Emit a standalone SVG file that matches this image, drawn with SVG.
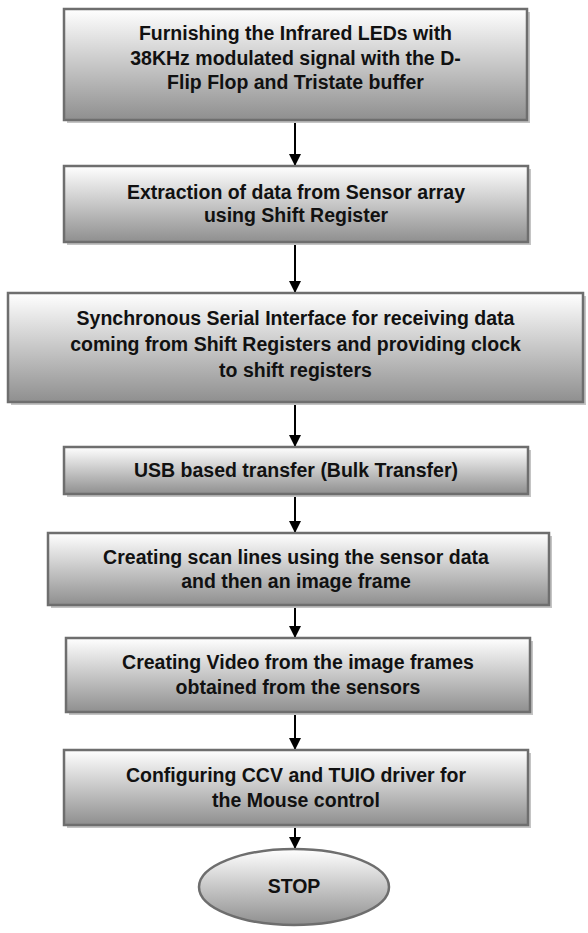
<svg xmlns="http://www.w3.org/2000/svg" width="588" height="933" viewBox="0 0 588 933">
  <defs>
    <linearGradient id="boxFill" x1="0" y1="0" x2="0" y2="1">
      <stop offset="0" stop-color="#ffffff"/>
      <stop offset="1" stop-color="#8f8f8f"/>
    </linearGradient>
    <marker id="arrow" markerWidth="12" markerHeight="12" refX="12" refY="6" orient="auto" markerUnits="userSpaceOnUse">
      <path d="M0,0 L12,6 L0,12 Z" fill="#000"/>
    </marker>
  </defs>
  <style>
    .box { fill: url(#boxFill); stroke: #6e6e6e; stroke-width: 2.5; }
    .shadow { fill: #c4c4c4; }
    .label { font-family: "Liberation Sans", Arial, sans-serif; font-weight: bold; font-size: 19.5px; fill: #111; text-anchor: middle; }
    .conn { stroke: #000; stroke-width: 2; fill: none; marker-end: url(#arrow); }
  </style>

  <rect width="588" height="933" fill="#fff"/>

  <g id="connectors">
    <line class="conn" x1="295" y1="121" x2="295" y2="166"/>
    <line class="conn" x1="295" y1="243" x2="295" y2="293"/>
    <line class="conn" x1="295" y1="403" x2="295" y2="447"/>
    <line class="conn" x1="295" y1="495" x2="295" y2="533"/>
    <line class="conn" x1="295" y1="606" x2="295" y2="638"/>
    <line class="conn" x1="295" y1="713" x2="295" y2="750"/>
    <line class="conn" x1="295" y1="826" x2="295" y2="849"/>
  </g>

  <g id="step1">
    <rect class="shadow" x="67" y="12" width="463" height="111"/>
    <rect class="box" x="64" y="9" width="463" height="111"/>
    <text class="label" x="295.5" y="40">Furnishing the Infrared LEDs with</text>
    <text class="label" x="295.5" y="65">38KHz modulated signal with the D-</text>
    <text class="label" x="295.5" y="89">Flip Flop and Tristate buffer</text>
  </g>

  <g id="step2">
    <rect class="shadow" x="67" y="169" width="464" height="76"/>
    <rect class="box" x="64" y="166" width="464" height="76"/>
    <text class="label" x="296" y="199">Extraction of data from Sensor array</text>
    <text class="label" x="296" y="222">using Shift Register</text>
  </g>

  <g id="step3">
    <rect class="shadow" x="11" y="296" width="575" height="109"/>
    <rect class="box" x="8" y="293" width="575" height="109"/>
    <text class="label" x="295.5" y="325">Synchronous Serial Interface for receiving data</text>
    <text class="label" x="295.5" y="351">coming from Shift Registers and providing clock</text>
    <text class="label" x="295.5" y="377">to shift registers</text>
  </g>

  <g id="step4">
    <rect class="shadow" x="67" y="450" width="464" height="47"/>
    <rect class="box" x="64" y="447" width="464" height="47"/>
    <text class="label" x="296" y="477">USB based transfer (Bulk Transfer)</text>
  </g>

  <g id="step5">
    <rect class="shadow" x="51" y="536" width="501" height="72"/>
    <rect class="box" x="48" y="533" width="501" height="72"/>
    <text class="label" x="296" y="564">Creating scan lines using the sensor data</text>
    <text class="label" x="296" y="588">and then an image frame</text>
  </g>

  <g id="step6">
    <rect class="shadow" x="69" y="641" width="464" height="74"/>
    <rect class="box" x="66" y="638" width="464" height="74"/>
    <text class="label" x="298" y="669">Creating Video from the image frames</text>
    <text class="label" x="298" y="694">obtained from the sensors</text>
  </g>

  <g id="step7">
    <rect class="shadow" x="67" y="753" width="464" height="75"/>
    <rect class="box" x="64" y="750" width="464" height="75"/>
    <text class="label" x="296" y="782">Configuring CCV and TUIO driver for</text>
    <text class="label" x="296" y="807">the Mouse control</text>
  </g>

  <g id="stop">
    <ellipse class="box" cx="294" cy="887" rx="95" ry="38" stroke-width="2"/>
    <text class="label" x="294" y="893">STOP</text>
  </g>
</svg>
